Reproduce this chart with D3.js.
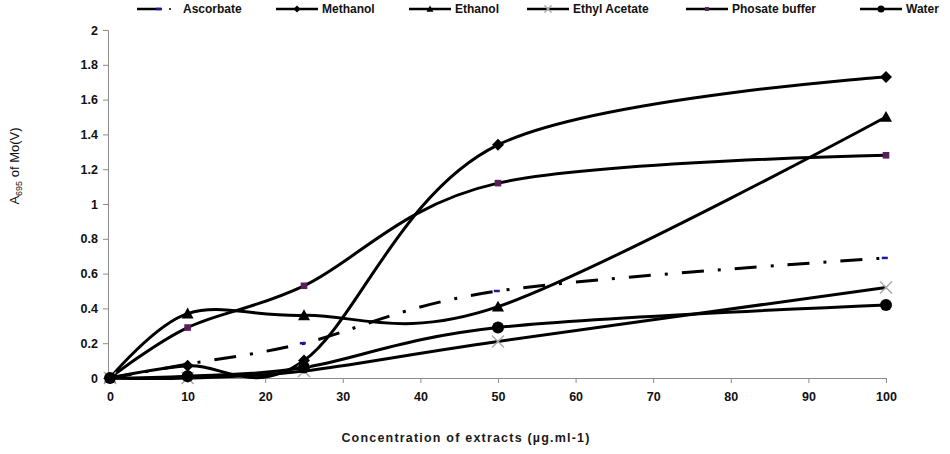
<!DOCTYPE html>
<html>
<head>
<meta charset="utf-8">
<script src="https://cdn.jsdelivr.net/npm/d3@7"></script>
<style>
  body { margin: 0; background: #fff; }
  text { font-family: Arial, "Liberation Sans", sans-serif; }
</style>
</head>
<body>
<div id="chart"></div>
<script>
// concentrations (x) and absorbance values per extract
const concentrations = [0, 10, 25, 50, 100];
const xTicks = [0, 10, 20, 30, 40, 50, 60, 70, 80, 90, 100];
const yTicks = [0, 0.2, 0.4, 0.6, 0.8, 1, 1.2, 1.4, 1.6, 1.8, 2];

const ascorbate = [0, 0.08, 0.2, 0.5, 0.69];
const methanol = [0, 0.07, 0.1, 1.34, 1.73];
const ethanol = [0, 0.37, 0.36, 0.41, 1.5];
const ethylAcetate = [0, 0, 0.04, 0.21, 0.52];
const phosateBuffer = [0, 0.29, 0.53, 1.12, 1.28];
const water = [0, 0.01, 0.06, 0.29, 0.42];

const seriesNames = ["Ascorbate", "Methanol", "Ethanol", "Ethyl Acetate", "Phosate buffer", "Water"];
const seriesValues = [ascorbate, methanol, ethanol, ethylAcetate, phosateBuffer, water];
const seriesMarkers = ["dash", "diamond", "triangle", "cross", "square", "circle"];
const legendX = [137, 276, 409, 527, 686, 860];

const width = 950, height = 454;
const margin = { left: 110, right: 64, top: 30, bottom: 76 };

const svg = d3.select("#chart").append("svg")
    .attr("width", width)
    .attr("height", height);

const x = d3.scaleLinear().domain([0, 100]).range([margin.left, width - margin.right]);
const y = d3.scaleLinear().domain([0, 2]).range([height - margin.bottom, margin.top]);

// Оси
const xAxis = svg.append("g")
    .attr("transform", `translate(0, ${y(0)})`)
    .call(d3.axisBottom(x).tickValues(xTicks).tickSize(5).tickPadding(9).tickFormat(d3.format("d")));
const yAxis = svg.append("g")
    .attr("transform", `translate(${x(0) - 2}, 0)`)
    .call(d3.axisLeft(y).tickValues(yTicks).tickSize(5).tickPadding(5).tickFormat(d => d3.format("")(d)));

[xAxis, yAxis].forEach(ax => {
    ax.select(".domain").attr("stroke", "#8c8c8c");
    ax.selectAll(".tick line").attr("stroke", "#8c8c8c");
    ax.selectAll(".tick text")
        .attr("fill", "#111")
        .attr("font-size", "12.5px")
        .attr("font-weight", "bold")
        .attr("font-family", "Arial, 'Liberation Sans', sans-serif");
});

// Подписи осей
svg.append("text")
    .attr("x", 466)
    .attr("y", 442)
    .attr("text-anchor", "middle")
    .attr("font-size", "12.5px")
    .attr("font-weight", "bold")
    .attr("letter-spacing", "1.2px")
    .attr("fill", "#1a1a1a")
    .text("Concentration of extracts (µg.ml-1)");

const yLabel = svg.append("text")
    .attr("transform", "translate(19, 166) rotate(-90)")
    .attr("text-anchor", "middle")
    .attr("font-size", "13px")
    .attr("fill", "#111");
yLabel.append("tspan").text("A");
yLabel.append("tspan").attr("font-size", "9px").attr("dy", 3).text("695");
yLabel.append("tspan").attr("dy", -3).text(" of Mo(V)");

// Линии
const line = d3.line()
    .x((d, i) => x(concentrations[i]))
    .y(d => y(d))
    .curve(d3.curveCardinal.tension(0));

function drawMarker(g, type, cx, cy, s) {
    if (type === "diamond") {
        g.append("path")
            .attr("d", `M${cx},${cy - s}L${cx + s},${cy}L${cx},${cy + s}L${cx - s},${cy}Z`)
            .attr("fill", "#000");
    } else if (type === "triangle") {
        g.append("path")
            .attr("d", `M${cx},${cy - s}L${cx + s},${cy + s * 0.8}L${cx - s},${cy + s * 0.8}Z`)
            .attr("fill", "#000");
    } else if (type === "cross") {
        g.append("path")
            .attr("d", `M${cx - s},${cy - s}L${cx + s},${cy + s}M${cx - s},${cy + s}L${cx + s},${cy - s}`)
            .attr("stroke", "#aaa")
            .attr("stroke-width", 1.5);
    } else if (type === "square") {
        g.append("rect")
            .attr("x", cx - s * 0.55).attr("y", cy - s * 0.55)
            .attr("width", s * 1.1).attr("height", s * 1.1)
            .attr("fill", "#5a1f5a");
    } else if (type === "circle") {
        g.append("circle")
            .attr("cx", cx).attr("cy", cy).attr("r", s)
            .attr("fill", "#000");
    } else if (type === "dash") {
        g.append("line")
            .attr("x1", cx - s * 0.7).attr("x2", cx + s * 0.3)
            .attr("y1", cy).attr("y2", cy)
            .attr("stroke", "#1a1aa0")
            .attr("stroke-width", 2.5);
    }
}

const plot = svg.append("g");
seriesValues.forEach((vals, k) => {
    plot.append("path")
        .datum(vals)
        .attr("d", line)
        .attr("fill", "none")
        .attr("stroke", "#000")
        .attr("stroke-width", 3)
        .attr("stroke-dasharray", k === 0 ? "22,14,3,14" : null);
});
seriesValues.forEach((vals, k) => {
    const g = plot.append("g");
    vals.forEach((v, i) => drawMarker(g, seriesMarkers[k], x(concentrations[i]), y(v), 6));
});

// Легенда
const legend = svg.append("g");
seriesNames.forEach((name, k) => {
    const lx = legendX[k], ly = 9;
    const g = legend.append("g");
    if (k === 0) {
        g.append("line").attr("x1", lx).attr("x2", lx + 24).attr("y1", ly).attr("y2", ly)
            .attr("stroke", "#000").attr("stroke-width", 2.5);
        g.append("line").attr("x1", lx + 19).attr("x2", lx + 25).attr("y1", ly).attr("y2", ly)
            .attr("stroke", "#1a1aa0").attr("stroke-width", 2.5);
        g.append("circle").attr("cx", lx + 33).attr("cy", ly).attr("r", 1).attr("fill", "#000");
    } else {
        g.append("line").attr("x1", lx).attr("x2", lx + 42).attr("y1", ly).attr("y2", ly)
            .attr("stroke", "#000").attr("stroke-width", 2.5);
        drawMarker(g, seriesMarkers[k], lx + 21, ly, 3.5);
    }
    g.append("text")
        .attr("x", lx + 46)
        .attr("y", ly + 4)
        .attr("font-size", "12px")
        .attr("font-weight", "bold")
        .attr("fill", "#111")
        .text(name);
});
</script>
</body>
</html>
